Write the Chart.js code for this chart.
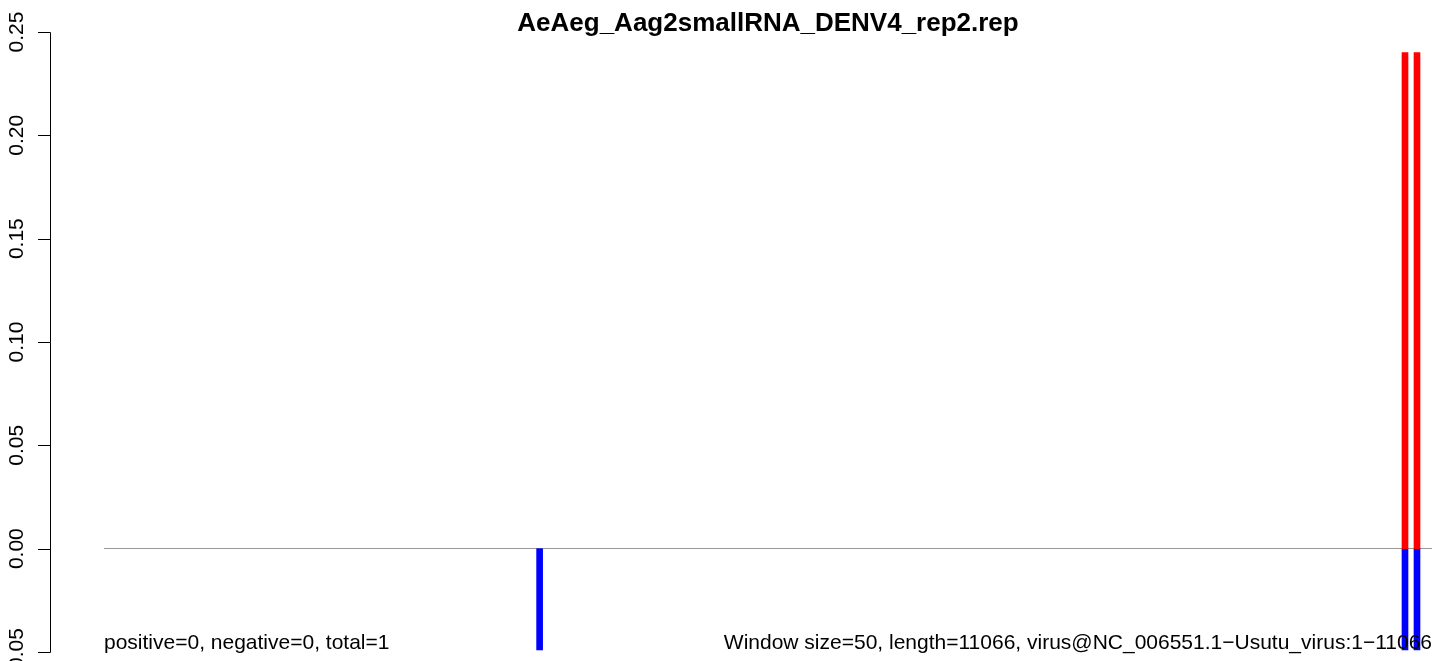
<!DOCTYPE html>
<html>
<head>
<meta charset="utf-8">
<title>AeAeg_Aag2smallRNA_DENV4_rep2.rep</title>
<script src="https://cdn.jsdelivr.net/npm/chart.js@4/dist/chart.umd.min.js"></script>
<style>
  html, body { margin: 0; padding: 0; background: #fff; }
  #wrap { width: 1455px; height: 661px; }
</style>
</head>
<body>
<div id="wrap"><canvas id="coverage" width="1455" height="661"></canvas></div>
<script>
// --- Date ---
const genomeLength = 11066;
const sensePositions = [10841, 10941];
const senseValues = [0.24, 0.24];
const antisensePositions = [3630, 10841, 10941];
const antisenseValues = [-0.049, -0.049, -0.049];
const yTicks = [-0.05, 0, 0.05, 0.10, 0.15, 0.20, 0.25];

const plotTitle = 'AeAeg_Aag2smallRNA_DENV4_rep2.rep';
const leftNote = 'positive=0, negative=0, total=1';
const rightNote = 'Window size=50, length=11066, virus@NC_006551.1\u2212Usutu_virus:1\u221211066';

const FONT = '"Liberation Sans", Arial, Helvetica, sans-serif';

const toPoints = (xs, ys) => xs.map((x, i) => ({ x: x, y: ys[i] }));

// Axa Y, titlul si notele de jos, desenate peste grafic in stil R
const rDecorations = {
    id: 'rDecorations',
    afterDraw(chart) {
        const ctx = chart.ctx;
        const y = chart.scales.y;
        const area = chart.chartArea;
        const axisX = 50.5;

        ctx.save();
        ctx.strokeStyle = '#000';
        ctx.lineWidth = 1;
        ctx.beginPath();
        const yTop = Math.round(y.getPixelForValue(yTicks[yTicks.length - 1])) + 0.5;
        const yBot = Math.round(y.getPixelForValue(yTicks[0])) + 0.5;
        ctx.moveTo(axisX, yTop);
        ctx.lineTo(axisX, yBot);
        yTicks.forEach(v => {
            const py = Math.round(y.getPixelForValue(v)) + 0.5;
            ctx.moveTo(axisX, py);
            ctx.lineTo(38, py);
        });
        ctx.stroke();

        // etichete rotite (citite de jos in sus)
        ctx.fillStyle = '#000';
        ctx.font = '21px ' + FONT;
        ctx.textAlign = 'center';
        ctx.textBaseline = 'alphabetic';
        yTicks.forEach(v => {
            const py = y.getPixelForValue(v);
            ctx.save();
            ctx.translate(23, py);
            ctx.rotate(-Math.PI / 2);
            ctx.fillText(v.toFixed(2), 0, 0);
            ctx.restore();
        });

        // titlul
        ctx.font = 'bold 26px ' + FONT;
        ctx.textAlign = 'center';
        ctx.fillText(plotTitle, (area.left + area.right) / 2, 31);

        // notele de jos
        ctx.font = '21px ' + FONT;
        ctx.textAlign = 'left';
        ctx.fillText(leftNote, area.left, 649);
        ctx.textAlign = 'right';
        ctx.fillText(rightNote, area.right, 649);
        ctx.restore();
    }
};

const canvas = document.getElementById('coverage');

new Chart(canvas, {
    type: 'bar',
    data: {
        datasets: [
            {
                label: 'sense',
                data: toPoints(sensePositions, senseValues),
                backgroundColor: '#ff0000',
                barThickness: 6,
                grouped: false
            },
            {
                label: 'antisense',
                data: toPoints(antisensePositions, antisenseValues),
                backgroundColor: '#0000ff',
                barThickness: 6,
                grouped: false
            }
        ]
    },
    options: {
        responsive: false,
        animation: false,
        layout: { padding: { left: 104, right: 23, top: 32, bottom: 9 } },
        plugins: {
            legend: { display: false },
            tooltip: { enabled: false },
            title: { display: false }
        },
        scales: {
            x: {
                type: 'linear',
                min: 0,
                max: genomeLength,
                offset: false,
                display: false
            },
            y: {
                min: -0.05,
                max: 0.25,
                ticks: { display: false, stepSize: 0.05 },
                border: { display: false },
                grid: {
                    drawTicks: false,
                    lineWidth: 1,
                    // doar linia de zero
                    color: c => Math.abs(c.tick.value) < 1e-9 ? '#999999' : 'rgba(0,0,0,0)'
                },
                afterFit: s => { s.width = 0; }
            }
        }
    },
    plugins: [rDecorations]
});
</script>
</body>
</html>
